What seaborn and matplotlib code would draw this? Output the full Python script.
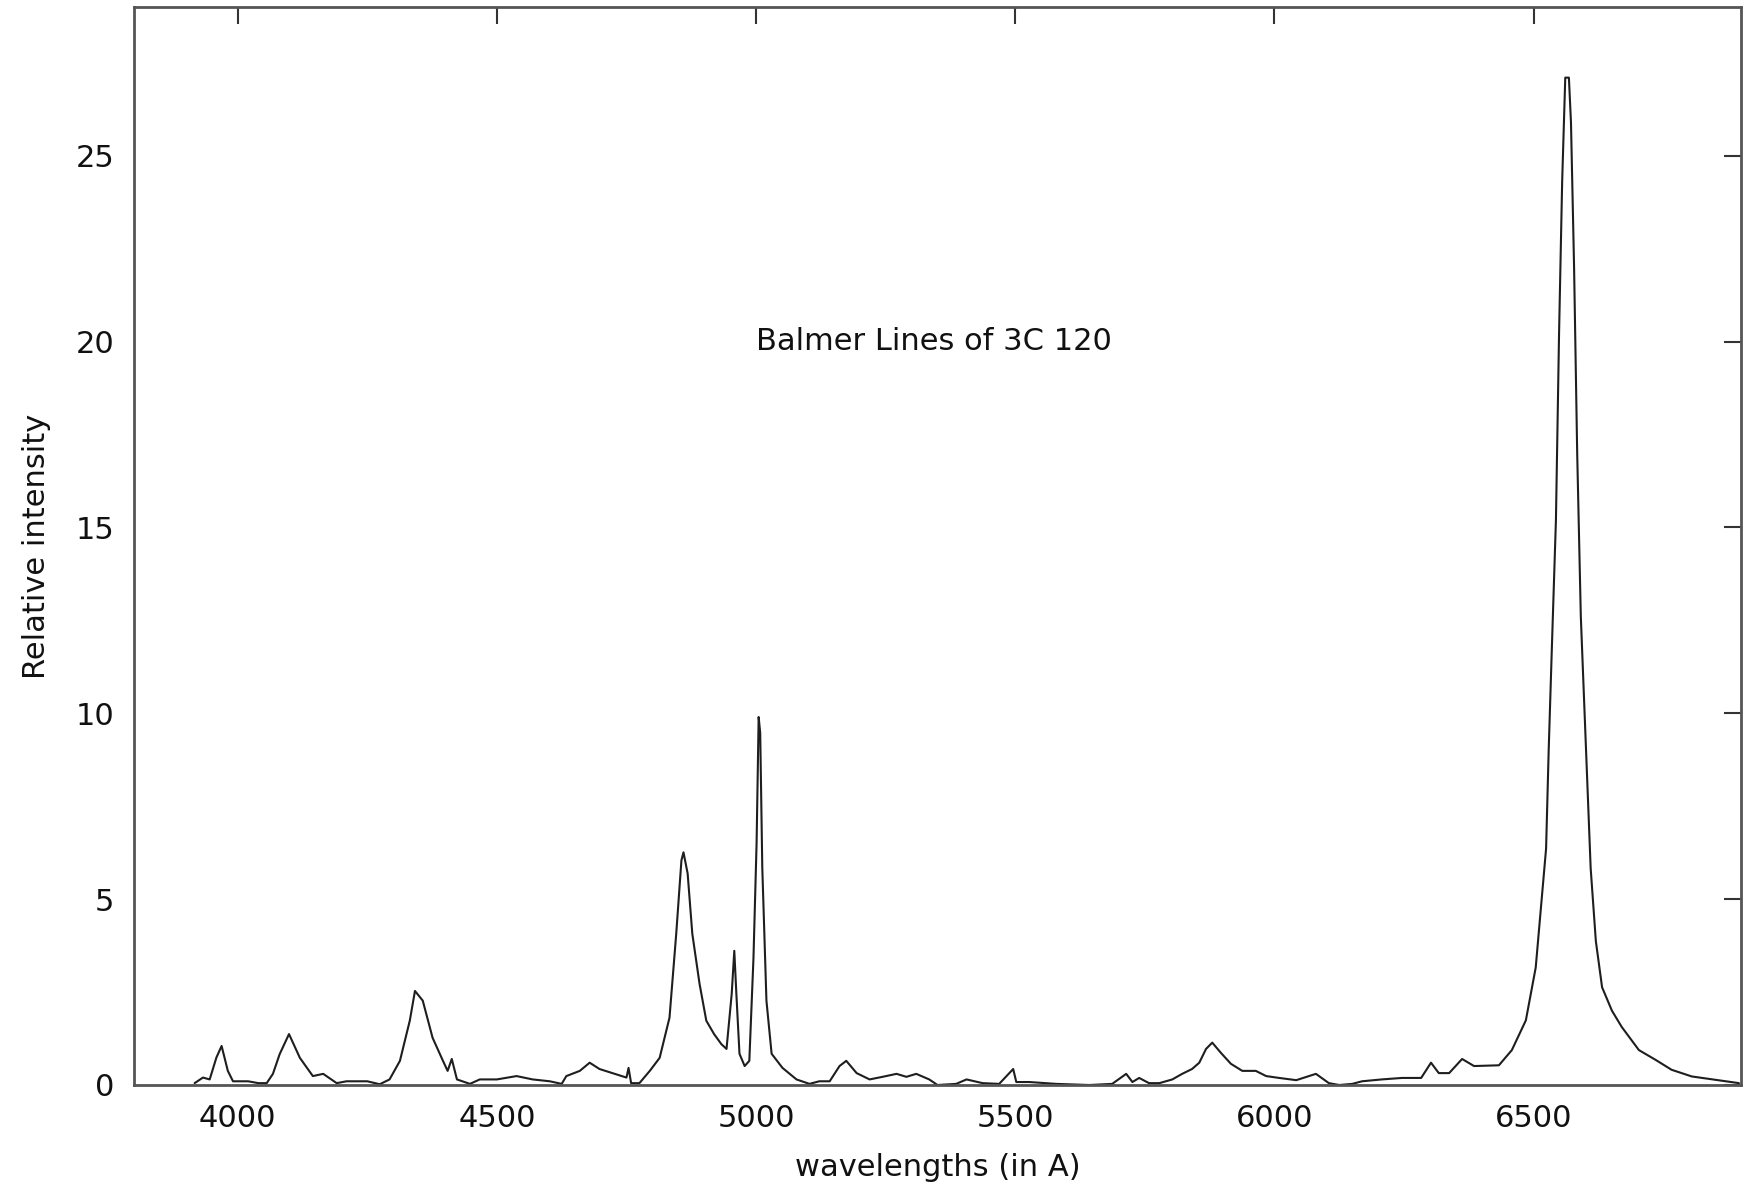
import matplotlib
matplotlib.use("Agg")
import matplotlib.pyplot as plt
import seaborn as sns
import pandas as pd

wavelength = [
    3917, 3933, 3946, 3959, 3969, 3981, 3991, 4020, 4040, 4056, 4068, 4081, 4099, 4120,
    4145, 4165, 4191, 4210, 4250, 4274, 4293, 4313, 4332, 4342, 4357, 4376, 4396, 4405,
    4413, 4423, 4448, 4467, 4500, 4538, 4569, 4602, 4625, 4634, 4660, 4679, 4698, 4723,
    4750, 4754, 4759, 4775, 4795, 4814, 4833, 4846, 4856, 4860, 4868, 4877, 4891, 4904,
    4919, 4933, 4943, 4953, 4958, 4962, 4968, 4978, 4987, 4995, 5001, 5005, 5008, 5012,
    5020, 5030, 5051, 5078, 5103, 5122, 5142, 5161, 5174, 5194, 5219, 5244, 5271, 5290,
    5309, 5334, 5350, 5386, 5406, 5437, 5469, 5496, 5502, 5527, 5579, 5643, 5687, 5714,
    5726, 5739, 5758, 5778, 5803, 5822, 5841, 5855, 5868, 5880, 5897, 5916, 5938, 5964,
    5984, 6009, 6042, 6080, 6105, 6125, 6150, 6169, 6207, 6246, 6283, 6302, 6317, 6337,
    6362, 6385, 6433, 6458, 6485, 6504, 6516, 6524, 6529, 6535, 6543, 6549, 6555, 6561,
    6568, 6572, 6578, 6584, 6591, 6601, 6610, 6620, 6632, 6651, 6670, 6703, 6736, 6766,
    6805, 6851, 6896,
]
intensity = [
    0.05, 0.20, 0.15, 0.74, 1.05, 0.38, 0.10, 0.10, 0.05, 0.05, 0.30, 0.83, 1.37, 0.73,
    0.24, 0.30, 0.05, 0.10, 0.10, 0.02, 0.15, 0.65, 1.73, 2.53, 2.27, 1.27, 0.65, 0.38,
    0.70, 0.15, 0.03, 0.15, 0.15, 0.24, 0.15, 0.10, 0.03, 0.24, 0.38, 0.60, 0.43, 0.32,
    0.20, 0.46, 0.05, 0.05, 0.38, 0.73, 1.81, 4.07, 6.04, 6.26, 5.69, 4.07, 2.72, 1.73,
    1.37, 1.10, 0.97, 2.45, 3.61, 2.45, 0.84, 0.51, 0.65, 3.42, 6.50, 9.90, 9.47, 5.85,
    2.27, 0.84, 0.46, 0.15, 0.03, 0.10, 0.10, 0.51, 0.65, 0.32, 0.15, 0.22, 0.30, 0.22,
    0.30, 0.15, 0.00, 0.03, 0.15, 0.05, 0.03, 0.43, 0.08, 0.08, 0.03, 0.00, 0.03, 0.30,
    0.08, 0.19, 0.05, 0.05, 0.15, 0.30, 0.43, 0.60, 0.97, 1.14, 0.86, 0.57, 0.38, 0.38,
    0.24, 0.19, 0.13, 0.30, 0.05, 0.00, 0.03, 0.10, 0.15, 0.19, 0.19, 0.60, 0.32, 0.32,
    0.70, 0.51, 0.53, 0.94, 1.74, 3.16, 5.10, 6.36, 9.00, 11.70, 15.20, 20.20, 24.30, 27.10,
    27.10, 25.90, 22.00, 17.00, 12.60, 9.00, 5.83, 3.87, 2.63, 2.00, 1.56, 0.94, 0.67, 0.41,
    0.23, 0.14, 0.05,
]
x_ticks = [4000, 4500, 5000, 5500, 6000, 6500]
y_ticks = [0, 5, 10, 15, 20, 25]
title_text = "Balmer Lines of 3C 120"
x_label = "wavelengths (in A)"
y_label = "Relative intensity"

df = pd.DataFrame({"wavelength": wavelength, "intensity": intensity})

sns.set_style("white")
plt.rcParams["font.family"] = ["DejaVu Sans"]

FS = 22
fig = plt.figure(figsize=(17.48, 11.87), dpi=100)
ax = fig.add_axes([134 / 1748, 1 - 1085 / 1187, (1741 - 134) / 1748, (1085 - 7) / 1187])

sns.lineplot(data=df, x="wavelength", y="intensity", ax=ax, sort=False,
             estimator=None, color="#1e1e1e", linewidth=1.5)

ax.set_xlim(3800, 6900)
ax.set_ylim(0, 29)
ax.set_xticks(x_ticks)
ax.set_yticks(y_ticks)
ax.tick_params(axis="both", direction="in", length=12, width=1.5, color="#333333",
               labelsize=FS, labelcolor="#111111", top=True, right=True)
ax.tick_params(axis="x", pad=14)
ax.tick_params(axis="y", pad=14)
for sp in ax.spines.values():
    sp.set_color("#555555")
    sp.set_linewidth(2)
    sp.set_visible(True)

ax.set_xlabel(x_label, fontsize=FS, color="#111111", labelpad=14)
ax.set_ylabel(y_label, fontsize=FS, color="#111111", labelpad=18)
ax.text(5000, 20, title_text, fontsize=FS, color="#111111", ha="left", va="center")

fig.savefig("out.png", dpi=100)
